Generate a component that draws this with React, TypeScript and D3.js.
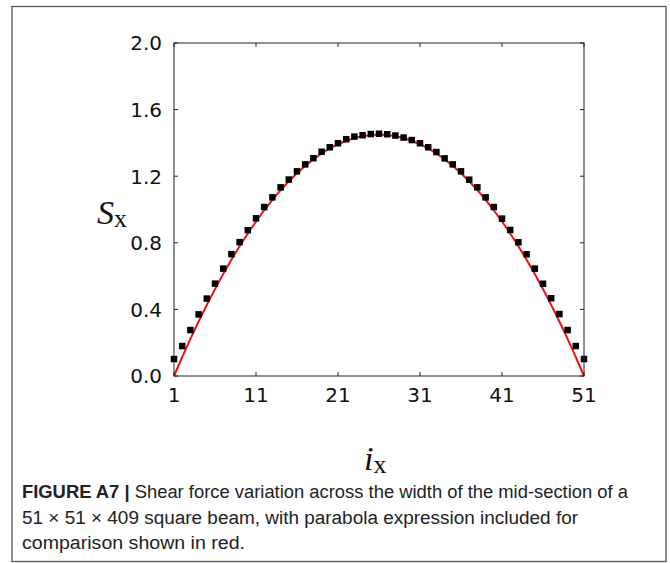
import React from "react";
import * as d3 from "d3";

// Node index across the beam width
const nodeIndex = [
  1, 2, 3, 4, 5, 6, 7, 8, 9, 10, 11, 12, 13, 14, 15, 16, 17, 18, 19, 20, 21, 22, 23, 24, 25, 26,
  27, 28, 29, 30, 31, 32, 33, 34, 35, 36, 37, 38, 39, 40, 41, 42, 43, 44, 45, 46, 47, 48, 49, 50, 51,
];

// Simulated shear force at each node
const shearForce = [
  0.102, 0.18, 0.276, 0.37, 0.465, 0.555, 0.645, 0.732, 0.804, 0.876, 0.947, 1.015, 1.073,
  1.133, 1.18, 1.229, 1.271, 1.308, 1.347, 1.374, 1.398, 1.422, 1.438, 1.446, 1.453, 1.455,
  1.452, 1.444, 1.432, 1.417, 1.398, 1.374, 1.345, 1.307, 1.271, 1.229, 1.179, 1.133, 1.073,
  1.015, 0.945, 0.877, 0.803, 0.731, 0.645, 0.554, 0.467, 0.372, 0.276, 0.18, 0.102,
];

// Parabola expression sampled at every node
const parabola = [
  0, 0.1137, 0.2227, 0.3271, 0.4269, 0.522, 0.6125, 0.6983, 0.7795, 0.8561, 0.928, 0.9953,
  1.0579, 1.1159, 1.1693, 1.218, 1.2621, 1.3015, 1.3363, 1.3665, 1.392, 1.4129, 1.4291,
  1.4407, 1.4477, 1.45, 1.4477, 1.4407, 1.4291, 1.4129, 1.392, 1.3665, 1.3363, 1.3015,
  1.2621, 1.218, 1.1693, 1.1159, 1.0579, 0.9953, 0.928, 0.8561, 0.7795, 0.6983, 0.6125,
  0.522, 0.4269, 0.3271, 0.2227, 0.1137, 0,
];

const xTicks = [1, 11, 21, 31, 41, 51];
const yTicks = [0, 0.4, 0.8, 1.2, 1.6, 2.0];

const captionLines = [
  { bold: "FIGURE A7 | ", text: "Shear force variation across the width of the mid-section of a" },
  { bold: "", text: "51 \u00d7 51 \u00d7 409 square beam, with parabola expression included for" },
  { bold: "", text: "comparison shown in red." },
];

const W = 670;
const H = 563;
const plot = { left: 174, right: 584, top: 43, bottom: 376 };

export default function App() {
  const x = d3.scaleLinear().domain([1, 51]).range([plot.left, plot.right]);
  const y = d3.scaleLinear().domain([0, 2]).range([plot.bottom, plot.top]);

  const line = d3
    .line<number>()
    .x((_, i) => x(nodeIndex[i]))
    .y((d) => y(d));

  const tickLen = 4;
  const axisColor = "#222";
  const sq = 6.5;
  const captionWidths = [606, 556, 223];
  const captionY = [498, 523.5, 549];

  return (
    <svg
      width={W}
      height={H}
      viewBox={`0 0 ${W} ${H}`}
      style={{ position: "absolute", left: 0, top: 0, background: "#fff" }}
    >
      <rect x={0} y={0} width={W} height={H} fill="#fff" />
      {/* figure frame */}
      <rect x={12} y={6.5} width={654} height={555} fill="none" stroke="#555" strokeWidth={1.3} />

      {/* parabola */}
      <path d={line(parabola) ?? ""} fill="none" stroke="#ee1111" strokeWidth={2} />

      {/* simulated points */}
      {shearForce.map((v, i) => (
        <rect
          key={i}
          x={x(nodeIndex[i]) - sq / 2}
          y={y(v) - sq / 2}
          width={sq}
          height={sq}
          fill="#000"
        />
      ))}

      {/* axes box */}
      <rect
        x={plot.left}
        y={plot.top}
        width={plot.right - plot.left}
        height={plot.bottom - plot.top}
        fill="none"
        stroke={axisColor}
        strokeWidth={1}
      />

      {xTicks.map((t) => (
        <g key={`x${t}`}>
          <line x1={x(t)} x2={x(t)} y1={plot.bottom} y2={plot.bottom - tickLen} stroke={axisColor} />
          <line x1={x(t)} x2={x(t)} y1={plot.top} y2={plot.top + tickLen} stroke={axisColor} />
          <text
            x={x(t)}
            y={plot.bottom + 26}
            textAnchor="middle"
            fontFamily="DejaVu Sans"
            fontSize={20}
            fill="#111"
          >
            {t}
          </text>
        </g>
      ))}

      {yTicks.map((t) => (
        <g key={`y${t}`}>
          <line x1={plot.left} x2={plot.left + tickLen} y1={y(t)} y2={y(t)} stroke={axisColor} />
          <line x1={plot.right} x2={plot.right - tickLen} y1={y(t)} y2={y(t)} stroke={axisColor} />
          <text
            x={plot.left - 12}
            y={y(t) + 7.3}
            textAnchor="end"
            fontFamily="DejaVu Sans"
            fontSize={20}
            fill="#111"
          >
            {t.toFixed(1)}
          </text>
        </g>
      ))}

      {/* axis titles */}
      <text x={97} y={224} fontFamily="Liberation Serif" fontSize={34} fill="#111">
        <tspan fontStyle="italic">S</tspan>
        <tspan fontSize={26} dy={3}>x</tspan>
      </text>
      <text x={364} y={470} fontFamily="Liberation Serif" fontSize={34} fill="#111">
        <tspan fontStyle="italic">i</tspan>
        <tspan fontSize={26} dy={3}>x</tspan>
      </text>

      {/* caption */}
      {captionLines.map((l, i) => (
        <text
          key={i}
          x={22}
          y={captionY[i]}
          fontFamily="Liberation Sans"
          fontSize={18}
          fill="#222"
          textLength={captionWidths[i]}
          lengthAdjust="spacingAndGlyphs"
        >
          {l.bold && <tspan fontWeight="bold">{l.bold}</tspan>}
          <tspan>{l.text}</tspan>
        </text>
      ))}
    </svg>
  );
}
